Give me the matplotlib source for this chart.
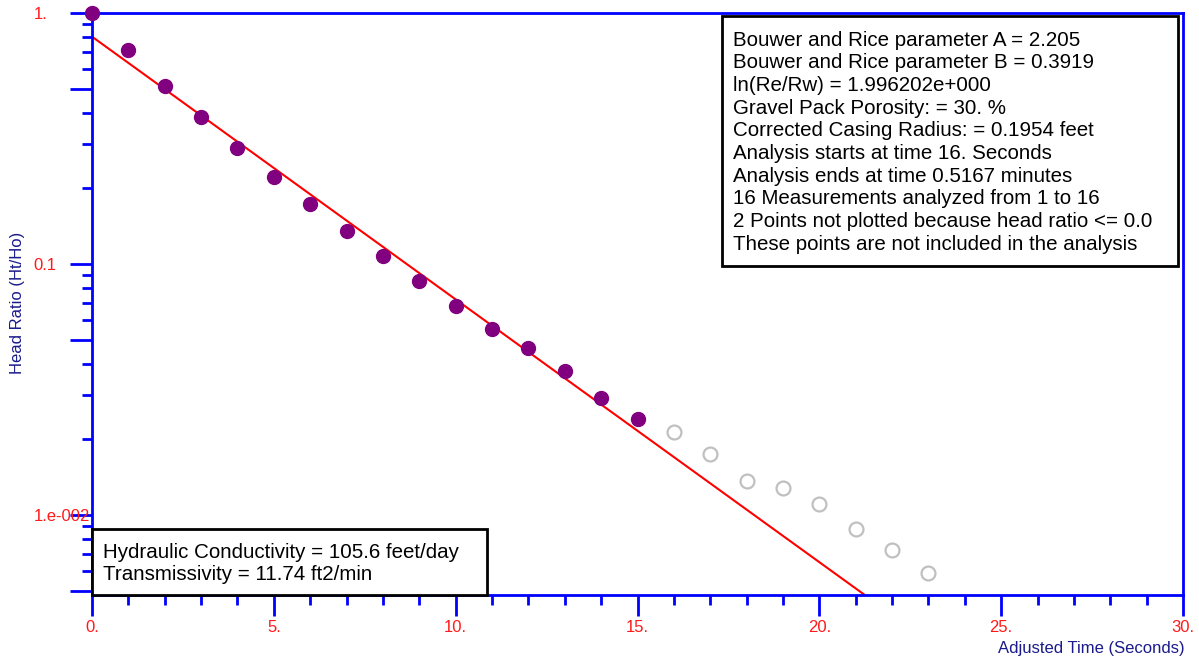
import matplotlib
matplotlib.use("Agg")
import matplotlib.pyplot as plt
from matplotlib.patches import Rectangle

plt.rcParams.update({"font.family": ["Liberation Sans", "DejaVu Sans"]})

W, H = 1199, 666

# measurements used in the fit (seconds, head ratio)
t_used = [0, 1, 2, 3, 4, 5, 6, 7, 8, 9, 10, 11, 12, 13, 14, 15]
ratio_used = [1.0, 0.712, 0.512, 0.385, 0.290, 0.222, 0.173, 0.135,
              0.1076, 0.0856, 0.068, 0.0551, 0.0463, 0.0375, 0.0292, 0.0241]

# measurements left out of the analysis
t_excluded = [16, 17, 18, 19, 20, 21, 22, 23]
ratio_excluded = [0.0215, 0.0175, 0.0136, 0.01285, 0.01104, 0.00879, 0.00727, 0.00589]

# fitted straight line (end points)
fit_t = [0.0, 21.25]
fit_ratio = [0.805, 0.0048]

x_ticks = [0, 5, 10, 15, 20, 25, 30]
x_labels = ["0.", "5.", "10.", "15.", "20.", "25.", "30."]
y_ticks = [0.005, 0.01, 0.05, 0.1, 0.5, 1.0]
y_labels = ["", "1.e-002", "", "0.1", "", "1."]

info_lines = [
    "Bouwer and Rice parameter A = 2.205",
    "Bouwer and Rice parameter B = 0.3919",
    "ln(Re/Rw) = 1.996202e+000",
    "Gravel Pack Porosity: = 30. %",
    "Corrected Casing Radius: = 0.1954 feet",
    "Analysis starts at time 16. Seconds",
    "Analysis ends at time 0.5167 minutes",
    "16 Measurements analyzed from 1 to 16",
    "2 Points not plotted because head ratio <= 0.0",
    "These points are not included in the analysis",
]
result_lines = [
    "Hydraulic Conductivity = 105.6 feet/day",
    "Transmissivity = 11.74 ft2/min",
]

blue = "#0000ff"
navy = "#1a1a8c"
red = "#ff1a1a"


def fx(px):
    return px / W


def fy(py):
    return 1 - py / H


fig = plt.figure(figsize=(W / 100, H / 100), dpi=100)
ax = fig.add_axes([fx(92), fy(595), (1183 - 92) / W, (595 - 13) / H])
ax.set_yscale("log")
ax.set_xlim(0, 30)
ax.set_ylim(0.0048, 1.0)

ax.plot(fit_t, fit_ratio, color="#ff0000", lw=1.5, zorder=2)
ax.plot(t_used, ratio_used, "o", ms=10, color="#800080", mec="#800080",
        clip_on=False, zorder=3)
ax.plot(t_excluded, ratio_excluded, "o", ms=10, mfc="none", mec="#c0c0c0",
        mew=1.6, clip_on=False, zorder=3)

for s in ax.spines.values():
    s.set_color(blue)
    s.set_linewidth(2)

ax.set_xticks(x_ticks, labels=x_labels)
ax.set_xticks(range(0, 31), minor=True)
ax.set_yticks(y_ticks, labels=y_labels)
ax.set_yticks([k * 10.0 ** e for e in (-3, -2, -1) for k in (2, 3, 4, 6, 7, 8, 9)
               if k * 10.0 ** e >= 0.0048], minor=True)
ax.yaxis.set_minor_formatter(plt.NullFormatter())

ax.tick_params(axis="x", which="major", length=15, width=2, color=blue,
               labelcolor=red, labelsize=12, pad=3)
ax.tick_params(axis="x", which="minor", length=7.5, width=2, color=blue)
ax.tick_params(axis="y", which="major", length=16, width=2, color=blue,
               labelcolor=red, labelsize=12, pad=26)
ax.tick_params(axis="y", which="minor", length=7.5, width=2, color=blue)
for lab in ax.get_yticklabels():
    lab.set_horizontalalignment("left")

fig.text(fx(18), fy(303), "Head Ratio (Ht/Ho)", rotation=90, color=navy,
         fontsize=12, ha="center", va="center")
fig.text(fx(1185), fy(648), "Adjusted Time (Seconds)", color=navy,
         fontsize=12, ha="right", va="center")

# parameter box
fig.patches.append(Rectangle((fx(722), fy(266)), (1178 - 722) / W, (266 - 16) / H,
                             transform=fig.transFigure, fc="white", ec="black",
                             lw=2, zorder=5))
for i, line in enumerate(info_lines):
    fig.text(fx(733), fy(40 + i * 22.7), line, fontsize=14.8, color="black",
             ha="left", va="center", zorder=6)

# results box
fig.patches.append(Rectangle((fx(92), fy(595)), (487 - 92) / W, (595 - 529) / H,
                             transform=fig.transFigure, fc="white", ec="black",
                             lw=2, zorder=5))
for i, line in enumerate(result_lines):
    fig.text(fx(103), fy(552 + i * 22), line, fontsize=14.8, color="black",
             ha="left", va="center", zorder=6)

fig.savefig("out.png", dpi=100)
